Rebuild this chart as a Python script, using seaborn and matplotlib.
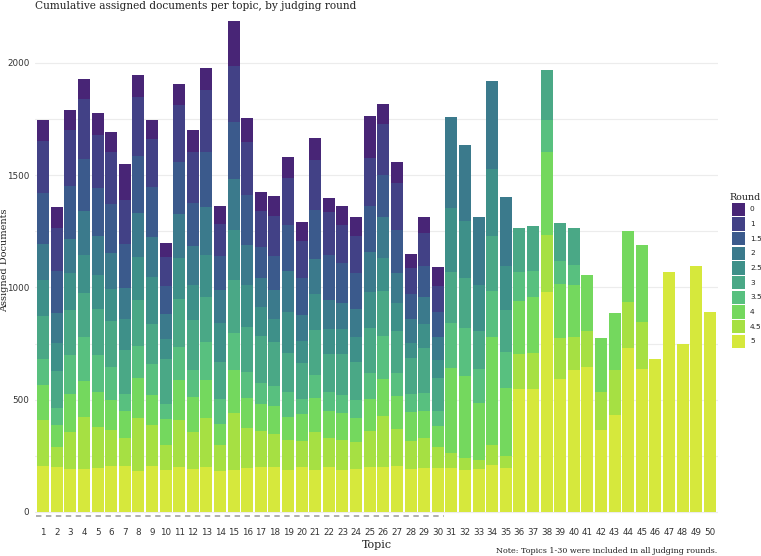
import numpy as np
import pandas as pd
import matplotlib
matplotlib.use("Agg")
import matplotlib.pyplot as plt
from matplotlib.patches import Rectangle
import seaborn as sns

topics = [str(i) for i in range(1, 51)]
rounds = ["0", "1", "1.5", "2", "2.5", "3", "3.5", "4", "4.5", "5"]

r5 = [203, 199, 190, 190, 197, 203, 203, 181, 205, 186,
      199, 190, 200, 181, 186, 196, 202, 202, 188, 202,
      188, 199, 188, 193, 202, 199, 206, 193, 197, 196,
      196, 186, 193, 211, 196, 549, 549, 981, 591, 631,
      644, 367, 430, 730, 635, 680, 1067, 748, 1095, 890]
r4_5 = [206, 91, 168, 234, 180, 160, 126, 239, 184, 110,
        212, 166, 217, 116, 254, 178, 157, 145, 131, 113,
        166, 132, 134, 117, 159, 230, 162, 125, 132, 92,
        68, 52, 37, 85, 52, 156, 160, 254, 183, 147,
        163, 169, 200, 206, 211, 0, 0, 0, 0, 0]
r4 = [157, 95, 168, 157, 159, 137, 122, 178, 131, 116,
      178, 157, 172, 96, 190, 134, 123, 126, 105, 119,
      153, 120, 120, 110, 144, 165, 150, 125, 119, 93,
      375, 367, 257, 482, 304, 233, 246, 370, 239, 232,
      249, 240, 255, 315, 341, 0, 0, 0, 0, 0]
r3_5 = [117, 76, 172, 196, 165, 147, 76, 142, 139, 67,
        145, 119, 168, 108, 169, 117, 93, 88, 110, 67,
        104, 85, 77, 77, 114, 191, 99, 82, 80, 67,
        203, 215, 148, 208, 159, 132, 116, 142, 104, 89,
        0, 0, 0, 0, 0, 0, 0, 0, 0, 0]
r3 = [190, 165, 200, 200, 202, 202, 196, 203, 177, 202,
      215, 221, 202, 165, 232, 200, 209, 197, 174, 162,
      200, 169, 186, 171, 199, 200, 190, 159, 202, 148,
      227, 220, 172, 242, 190, 196, 202, 220, 169, 165,
      0, 0, 0, 0, 0, 0, 0, 0, 0, 0]
r2_5 = [160, 128, 168, 165, 154, 145, 134, 194, 211, 89,
        184, 159, 184, 174, 224, 187, 128, 102, 183, 96,
        160, 110, 110, 110, 163, 148, 125, 67, 108, 82,
        286, 254, 202, 297, 196, 0, 0, 0, 0, 0,
        0, 0, 0, 0, 0, 0, 0, 0, 0, 0]
r2 = [162, 131, 150, 197, 174, 160, 138, 194, 177, 110,
      194, 171, 214, 148, 227, 178, 128, 128, 180, 120,
      156, 128, 117, 125, 178, 181, 131, 107, 120, 99,
      402, 341, 306, 395, 304, 0, 0, 0, 0, 0,
      0, 0, 0, 0, 0, 0, 0, 0, 0, 0]
r1_5 = [226, 188, 236, 232, 211, 218, 200, 252, 223, 128,
        233, 194, 245, 153, 254, 223, 139, 153, 208, 163,
        218, 200, 175, 162, 202, 187, 193, 114, 137, 113] + [0] * 20
r1 = [233, 193, 251, 266, 237, 232, 193, 266, 212, 126,
      252, 227, 275, 142, 248, 236, 159, 175, 206, 166,
      224, 191, 172, 163, 214, 226, 209, 113, 147, 114] + [0] * 20
r0 = [91, 92, 88, 93, 98, 89, 162, 95, 88, 65,
      92, 98, 101, 79, 202, 104, 86, 91, 95, 82,
      95, 65, 83, 86, 190, 89, 92, 65, 71, 85] + [0] * 20

series = {"0": r0, "1": r1, "1.5": r1_5, "2": r2, "2.5": r2_5,
          "3": r3, "3.5": r3_5, "4": r4, "4.5": r4_5, "5": r5}

rows = []
for r in rounds:
    for t, v in zip(topics, series[r]):
        rows.append({"topic": t, "round": r, "value": v})
df = pd.DataFrame(rows)

# cumulative top of each segment: stack order bottom->top is 5, 4.5, ..., 0
stack_bottom_up = rounds[::-1]
cum = {}
running = np.zeros(len(topics))
for r in stack_bottom_up:
    running = running + np.array(series[r])
    cum[r] = running.copy()
df["cum"] = [cum[r][topics.index(t)] for r, t in zip(df["round"], df["topic"])]

colors = [
    "#482576", "#424186", "#3b5a8c", "#3b7a8c", "#3e9089",
    "#4aa886", "#58c07f", "#74d85e", "#a6e043", "#d6e83c",
]
pal = dict(zip(rounds, colors))

sns.set_style("white")
plt.rcParams["font.family"] = ["DejaVu Sans"]

fig = plt.figure(figsize=(7.61, 5.56), dpi=100)
ax = fig.add_axes([35 / 761, 36 / 556, 683 / 761, 505 / 556])

for r in rounds:  # tallest (round 0 cumulative) drawn first
    sub = df[df["round"] == r]
    sns.barplot(data=sub, x="topic", y="cum", order=topics, color=pal[r],
                saturation=1, width=0.88, errorbar=None, linewidth=0,
                ax=ax)

ax.set_ylim(-36, 2213)
ax.set_xlim(-0.6, 49.6)
ax.set_yticks([0, 500, 1000, 1500, 2000])
ax.set_yticks(np.arange(250, 2250, 500), minor=True)
ax.grid(True, axis="y", which="both", color="#ececec", linewidth=0.8)
ax.set_axisbelow(True)
for s in ax.spines.values():
    s.set_visible(False)
ax.tick_params(axis="both", length=0, labelsize=6.3, colors="#333333")
ax.tick_params(axis="x", pad=6)
ax.tick_params(axis="y", pad=4)

# dashed marker under topics 1-30
ax.plot([-0.55, 29.45], [-17, -17], linestyle=(0, (3, 2.5)), color="#a8a8a8",
        linewidth=1.3, clip_on=False)

serif = ["DejaVu Serif"]
ax.set_xlabel("Topic", fontsize=8, family=serif, color="#222222", labelpad=2)
ax.set_ylabel("Assigned Documents", fontsize=7, family=serif, color="#222222")
ax.yaxis.set_label_coords(-0.038, 0.515)

fig.text(35 / 761, 1 - 6 / 556, "Cumulative assigned documents per topic, by judging round",
         fontsize=7.6, family=serif, color="#222222", ha="left", va="center")
fig.text(717 / 761, 1 - 551 / 556, "Note: Topics 1-30 were included in all judging rounds.",
         fontsize=5.8, family=serif, color="#222222", ha="right", va="center")

# legend
fig.text(729 / 761, 1 - 197 / 556, "Round", fontsize=6.8, family=serif,
         color="#222222", ha="left", va="center")
for i, r in enumerate(rounds):
    yc = 209.3 + i * 14.67
    fig.add_artist(Rectangle((732 / 761, 1 - (yc + 6.6) / 556), 13.3 / 761, 13.2 / 556,
                             transform=fig.transFigure, facecolor=pal[r],
                             edgecolor="none"))
    fig.text(750 / 761, 1 - yc / 556, r, fontsize=5.3, color="#222222",
             ha="left", va="center")

fig.savefig("out.png", dpi=100)
